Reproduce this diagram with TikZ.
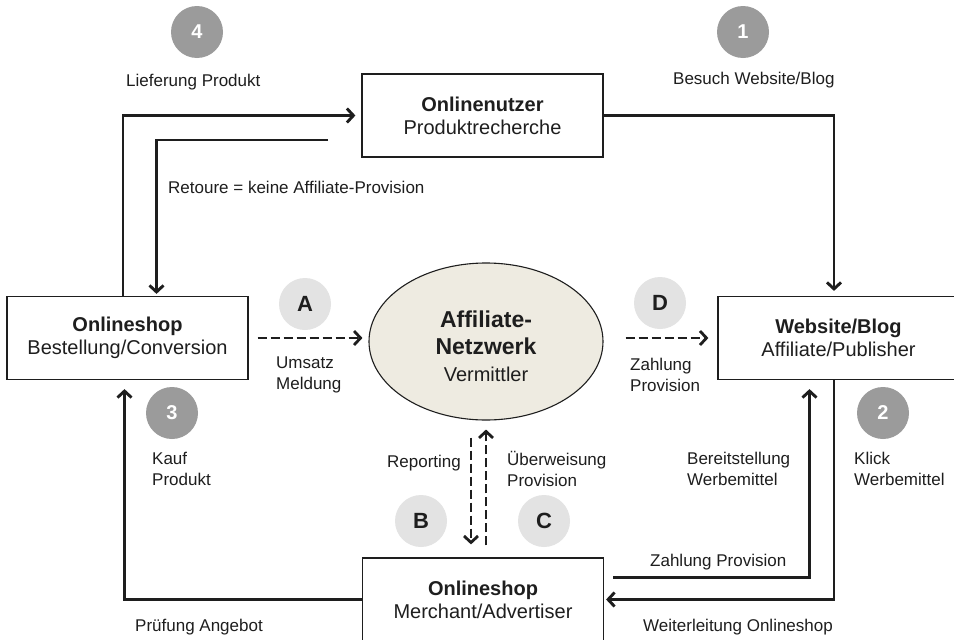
\documentclass[tikz,border=0pt]{standalone}
\usepackage{fontspec}
\setmainfont{Liberation Sans}
\usetikzlibrary{arrows.meta,shapes.geometric}
\definecolor{ink}{HTML}{1E1E1E}
\definecolor{stepdark}{HTML}{9B9B9B}
\definecolor{steplight}{HTML}{E3E3E3}
\definecolor{netfill}{HTML}{EEEBE1}

\tikzset{
  box/.style={draw=ink, line width=1.2pt, rectangle, minimum width=241pt, minimum height=83pt,
    inner sep=0pt, align=center, text=ink, font=\fontsize{20}{23}\selectfont},
  netnode/.style={ellipse, draw=ink, line width=1.1pt, fill=netfill, minimum width=234pt,
    minimum height=157pt, inner sep=0pt, align=center, text=ink, font=\fontsize{23}{27}\selectfont},
  numdot/.style={circle, fill=stepdark, minimum size=52pt, inner sep=0pt, text=white,
    font=\fontsize{20}{24}\selectfont\bfseries},
  letdot/.style={circle, fill=steplight, minimum size=52pt, inner sep=0pt, text=ink,
    font=\fontsize{22}{26}\selectfont\bfseries},
  lbl/.style={anchor=west, inner sep=0pt, align=left, text=ink, font=\fontsize{17}{21}\selectfont},
  conn/.style={draw=ink, line width=2.9pt, -{Straight Barb[length=6.5pt,width=14pt]}},
  dconn/.style={draw=ink, line width=2.8pt, dash pattern=on 9pt off 4pt,
    -{Straight Barb[length=6.5pt,width=14pt]}},
}

\begin{document}
\begin{tikzpicture}[x=1pt, y=-1pt]
  \fill[white] (0,0) rectangle (954,640);
  \useasboundingbox (0,0) rectangle (954,640);

  % actors
  \node[box] (user) at (482.5,115.5) {\textbf{Onlinenutzer}\\Produktrecherche};
  \node[box] (shop) at (127.5,338) {\textbf{Onlineshop}\\Bestellung/Conversion};
  \node[box] (blog) at (838.5,338) {\textbf{Website/Blog}\\Affiliate/Publisher};
  \node[box] (merchant) at (483,599.5) {\textbf{Onlineshop}\\Merchant/Advertiser};
  % the strut lifts the text box top so the three lines sit a little low in the ellipse
  \node[netnode] (net) at (486,341.5)
    {\rule{0pt}{27pt}\textbf{Affiliate-}\\\textbf{Netzwerk}\\{\fontsize{20}{24}\selectfont Vermittler}};

  % step markers
  \node[numdot] (c1) at (743,32) {1};
  \node[numdot] (c2) at (883,413) {2};
  \node[numdot] (c3) at (172,413) {3};
  \node[numdot] (c4) at (197,32) {4};
  \node[letdot] (cA) at (305,304) {A};
  \node[letdot] (cB) at (421,521) {B};
  \node[letdot] (cC) at (544,521) {C};
  \node[letdot] (cD) at (660,303) {D};

  % labels
  \node[lbl] (l4) at (126,82) {Lieferung Produkt};
  \node[lbl] (l1) at (673,80) {Besuch Website/Blog};
  \node[lbl] (lret) at (168,187) {Retoure = keine Affiliate-Provision};
  \node[lbl] (lA) at (276,374.5) {Umsatz\\Meldung};
  \node[lbl] (lD) at (630,374.5) {Zahlung\\Provision};
  \node[lbl] (l3) at (152,469) {Kauf\\Produkt};
  \node[lbl] (lB) at (387,463) {Reporting};
  \node[lbl] (lC) at (507,469) {Überweisung\\Provision};
  \node[lbl] (lbw) at (687,469) {Bereitstellung\\Werbemittel};
  \node[lbl] (l2) at (854,469) {Klick\\Werbemittel};
  \node[lbl] (lzp) at (650,562) {Zahlung Provision};
  \node[lbl] (lwo) at (643,627) {Weiterleitung Onlineshop};
  \node[lbl] (lpa) at (135,627) {Prüfung Angebot};

  % solid flow
  \coordinate (ret) at (328,140);
  \draw[conn, shorten >=6pt] ([xshift=-4.5pt]shop.north) |- (user.west);
  \draw[conn, shorten >=2pt] (ret) -| ([xshift=29pt]shop.north);
  \draw[conn, shorten >=5pt] (user.east) -| ([xshift=-4.5pt]blog.north);
  \draw[conn, shorten >=2pt] ([xshift=-4.5pt]blog.south) |- (merchant.east);
  \draw[conn, shorten >=9pt] ([xshift=9pt,yshift=22pt]merchant.east) -| ([xshift=-29pt]blog.south);
  \draw[conn, shorten >=9pt] (merchant.west) -| ([xshift=-3pt]shop.south);

  % dashed flow through the network
  \draw[dconn, shorten <=9pt, shorten >=6pt] (shop.east) -- (shop.east -| net.west);
  \draw[dconn, shorten <=22pt, shorten >=9pt] (net.east |- blog.west) -- (blog.west);
  \draw[dconn, shorten <=17pt, shorten >=13pt] ([xshift=-15pt]net.south) -- ([xshift=-15pt]net.south |- merchant.north);
  \draw[dconn, shorten <=12pt, shorten >=9pt] (net.south |- merchant.north) -- (net.south);
\end{tikzpicture}
\end{document}
